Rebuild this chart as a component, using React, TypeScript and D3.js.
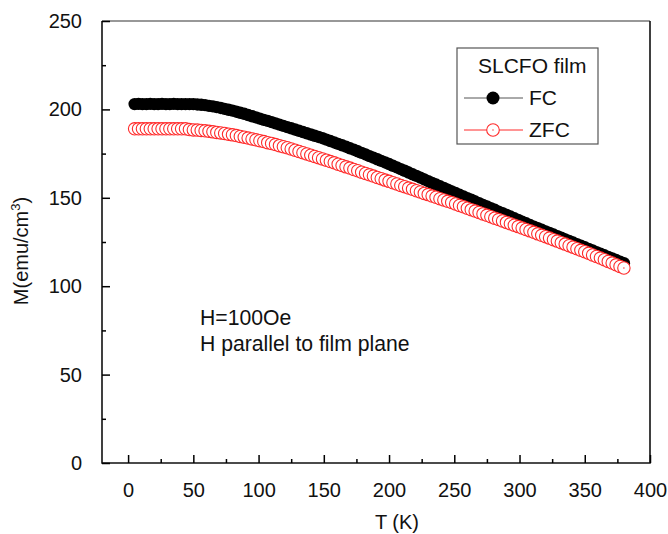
import { useRef, useEffect } from "react";
import * as d3 from "d3";

// temperature (K), shared by both runs
const temps = [
  5, 8, 11, 14, 17, 20, 23, 26, 29, 32, 35, 38, 41, 44, 47, 50, 53, 56, 59, 62,
  65, 68, 71, 74, 77, 80, 83, 86, 89, 92, 95, 98, 101, 104, 107, 110, 113, 116,
  119, 122, 125, 128, 131, 134, 137, 140, 143, 146, 149, 152, 155, 158, 161,
  164, 167, 170, 173, 176, 179, 182, 185, 188, 191, 194, 197, 200, 203, 206,
  209, 212, 215, 218, 221, 224, 227, 230, 233, 236, 239, 242, 245, 248, 251,
  254, 257, 260, 263, 266, 269, 272, 275, 278, 281, 284, 287, 290, 293, 296,
  299, 302, 305, 308, 311, 314, 317, 320, 323, 326, 329, 332, 335, 338, 341,
  344, 347, 350, 353, 356, 359, 362, 365, 368, 371, 374, 377, 380,
];

// M (emu/cm3), field cooled
const fcValues = [
  203.0, 203.1, 203.0, 203.0, 203.1, 203.0, 203.0, 203.1, 203.0, 203.0, 203.1,
  203.0, 203.0, 203.0, 203.0, 203.0, 202.8, 202.6, 202.4, 202.0, 201.7, 201.3,
  200.8, 200.3, 199.8, 199.3, 198.7, 198.1, 197.5, 196.8, 196.1, 195.5, 194.8,
  194.1, 193.5, 192.8, 192.1, 191.4, 190.7, 190.0, 189.3, 188.6, 187.9, 187.2,
  186.5, 185.8, 185.1, 184.4, 183.7, 182.9, 182.1, 181.3, 180.5, 179.7, 178.9,
  178.0, 177.2, 176.3, 175.4, 174.5, 173.6, 172.7, 171.8, 170.9, 170.0, 169.1,
  168.1, 167.2, 166.2, 165.3, 164.3, 163.3, 162.4, 161.4, 160.4, 159.4, 158.4,
  157.5, 156.5, 155.6, 154.6, 153.6, 152.7, 151.7, 150.8, 149.8, 148.9, 147.9,
  147.0, 146.0, 145.1, 144.1, 143.2, 142.2, 141.3, 140.3, 139.4, 138.4, 137.5,
  136.5, 135.6, 134.6, 133.7, 132.8, 131.9, 131.0, 130.1, 129.2, 128.3, 127.4,
  126.5, 125.6, 124.7, 123.8, 122.9, 122.0, 121.1, 120.2, 119.3, 118.4, 117.5,
  116.6, 115.7, 114.8, 113.9, 113.0,
];

// M (emu/cm3), zero field cooled
const zfcValues = [
  189.0, 189.0, 189.0, 189.0, 189.0, 189.0, 189.0, 189.0, 189.0, 189.0, 189.0,
  189.0, 189.0, 189.0, 188.6, 188.4, 188.3, 188.1, 187.9, 187.6, 187.3, 187.0,
  186.7, 186.4, 186.0, 185.6, 185.2, 184.7, 184.3, 183.8, 183.3, 182.8, 182.3,
  181.8, 181.2, 180.7, 180.1, 179.5, 178.9, 178.3, 177.6, 176.9, 176.2, 175.5,
  174.8, 174.1, 173.4, 172.7, 172.0, 171.3, 170.5, 169.8, 169.0, 168.3, 167.5,
  166.8, 166.0, 165.3, 164.5, 163.8, 163.0, 162.3, 161.5, 160.8, 160.0, 159.3,
  158.5, 157.8, 157.0, 156.3, 155.5, 154.8, 154.0, 153.3, 152.5, 151.8, 151.0,
  150.3, 149.5, 148.8, 148.0, 147.3, 146.5, 145.7, 144.9, 144.1, 143.3, 142.5,
  141.7, 140.9, 140.1, 139.3, 138.5, 137.7, 136.9, 136.1, 135.3, 134.5, 133.7,
  132.9, 132.1, 131.3, 130.5, 129.6, 128.8, 128.0, 127.2, 126.3, 125.5, 124.6,
  123.8, 122.9, 122.1, 121.2, 120.3, 119.5, 118.6, 117.7, 116.8, 115.9, 115.0,
  114.0, 113.1, 112.1, 111.2, 110.3,
];

const xTicks = [0, 50, 100, 150, 200, 250, 300, 350, 400];
const xMinor = [25, 75, 125, 175, 225, 275, 325, 375];
const yTicks = [0, 50, 100, 150, 200, 250];
const yMinor = [25, 75, 125, 175, 225];

const FONT = "Arial, 'Liberation Sans', sans-serif";
const RED = "#ff2a2a";

export default function MagnetizationChart() {
  const chartRef = useRef<HTMLDivElement>(null);

  useEffect(() => {
    if (!chartRef.current) return;
    d3.select(chartRef.current).selectAll("*").remove();

    const width = 668;
    const height = 534;
    const margin = { top: 21, right: 18, bottom: 71, left: 102 };

    const svg = d3
      .select(chartRef.current)
      .append("svg")
      .attr("width", width)
      .attr("height", height)
      .style("position", "absolute")
      .style("left", "0px")
      .style("top", "0px")
      .style("background", "#fff");

    const x = d3
      .scaleLinear()
      .domain([-20, 400])
      .range([margin.left, width - margin.right]);
    const y = d3
      .scaleLinear()
      .domain([0, 250])
      .range([height - margin.bottom, margin.top]);

    const fc = temps.map((t, i) => ({ t, m: fcValues[i] }));
    const zfc = temps.map((t, i) => ({ t, m: zfcValues[i] }));

    const line = d3
      .line<{ t: number; m: number }>()
      .x((d) => x(d.t))
      .y((d) => y(d.m));

    // FC: black line + filled dots
    svg
      .append("path")
      .datum(fc)
      .attr("d", line)
      .attr("fill", "none")
      .attr("stroke", "#000")
      .attr("stroke-width", 1);
    svg
      .append("g")
      .selectAll("circle")
      .data(fc)
      .enter()
      .append("circle")
      .attr("cx", (d) => x(d.t))
      .attr("cy", (d) => y(d.m))
      .attr("r", 6.2)
      .attr("fill", "#000");

    // ZFC: red line + open rings
    svg
      .append("path")
      .datum(zfc)
      .attr("d", line)
      .attr("fill", "none")
      .attr("stroke", RED)
      .attr("stroke-width", 1);
    const rings = svg
      .append("g")
      .selectAll("g")
      .data(zfc)
      .enter()
      .append("g")
      .attr("transform", (d) => `translate(${x(d.t)},${y(d.m)})`);
    rings
      .append("circle")
      .attr("r", 6.2)
      .attr("fill", "#fff")
      .attr("stroke", RED)
      .attr("stroke-width", 1.1);
    rings.append("circle").attr("r", 0.7).attr("fill", RED);

    // frame: thin grey top, black left/right/bottom
    const x0 = x(-20), x1 = x(400), y0 = y(0), y1 = y(250);
    svg
      .append("line")
      .attr("x1", x0).attr("x2", x1).attr("y1", y1).attr("y2", y1)
      .attr("stroke", "#333").attr("stroke-width", 1.2);
    svg
      .append("path")
      .attr("d", `M${x0},${y1}V${y0}H${x1}V${y1}`)
      .attr("fill", "none")
      .attr("stroke", "#111")
      .attr("stroke-width", 1.6);

    // axes (ticks point inward)
    const styleAxis = (g: d3.Selection<SVGGElement, unknown, null, undefined>) => {
      g.select(".domain").remove();
      g.selectAll(".tick line").attr("stroke", "#000").attr("stroke-width", 1.5);
      g.selectAll(".tick text")
        .attr("fill", "#111")
        .attr("font-family", FONT)
        .attr("font-size", 20);
    };

    svg
      .append("g")
      .attr("transform", `translate(0,${y0})`)
      .call(d3.axisBottom(x).tickValues(xTicks).tickSize(-8).tickPadding(20).tickFormat(d3.format("d")))
      .call(styleAxis);
    svg
      .append("g")
      .attr("transform", `translate(0,${y0})`)
      .call(d3.axisBottom(x).tickValues(xMinor).tickSize(-4).tickFormat(() => ""))
      .call(styleAxis);
    svg
      .append("g")
      .attr("transform", `translate(${x0},0)`)
      .call(d3.axisLeft(y).tickValues(yTicks).tickSize(-8).tickPadding(20).tickFormat(d3.format("d")))
      .call(styleAxis);
    svg
      .append("g")
      .attr("transform", `translate(${x0},0)`)
      .call(d3.axisLeft(y).tickValues(yMinor).tickSize(-4).tickFormat(() => ""))
      .call(styleAxis);

    // axis titles
    svg
      .append("text")
      .attr("x", 397)
      .attr("y", 529)
      .attr("text-anchor", "middle")
      .attr("font-family", FONT)
      .attr("font-size", 20)
      .attr("fill", "#111")
      .text("T (K)");

    const yLabel = svg
      .append("text")
      .attr("transform", "translate(28,251) rotate(-90)")
      .attr("text-anchor", "middle")
      .attr("font-family", FONT)
      .attr("font-size", 20)
      .attr("fill", "#111");
    yLabel.append("tspan").text("M(emu/cm");
    yLabel.append("tspan").attr("font-size", 13).attr("dy", -8).text("3");
    yLabel.append("tspan").attr("dy", 8).text(")");

    // field note
    svg
      .append("text")
      .attr("x", 200)
      .attr("y", 325)
      .attr("font-family", FONT)
      .attr("font-size", 21.2)
      .attr("fill", "#111")
      .text("H=100Oe");
    svg
      .append("text")
      .attr("x", 200)
      .attr("y", 351)
      .attr("font-family", FONT)
      .attr("font-size", 21.2)
      .attr("fill", "#111")
      .text("H parallel to film plane");

    // Legend
    const legend = svg.append("g");
    legend
      .append("rect")
      .attr("x", 457)
      .attr("y", 48)
      .attr("width", 141)
      .attr("height", 96)
      .attr("fill", "#fff")
      .attr("stroke", "#555")
      .attr("stroke-width", 1.2);
    legend
      .append("text")
      .attr("x", 478)
      .attr("y", 73)
      .attr("font-family", FONT)
      .attr("font-size", 21)
      .attr("fill", "#111")
      .text("SLCFO film");

    legend
      .append("line")
      .attr("x1", 464)
      .attr("x2", 523)
      .attr("y1", 98)
      .attr("y2", 98)
      .attr("stroke", "#555")
      .attr("stroke-width", 1);
    legend.append("circle").attr("cx", 493).attr("cy", 98).attr("r", 6.5).attr("fill", "#000");
    legend
      .append("text")
      .attr("x", 529)
      .attr("y", 105)
      .attr("font-family", FONT)
      .attr("font-size", 21)
      .attr("fill", "#111")
      .text("FC");

    legend
      .append("line")
      .attr("x1", 464)
      .attr("x2", 523)
      .attr("y1", 130)
      .attr("y2", 130)
      .attr("stroke", RED)
      .attr("stroke-width", 1);
    legend
      .append("circle")
      .attr("cx", 493)
      .attr("cy", 130)
      .attr("r", 6.3)
      .attr("fill", "#fff")
      .attr("stroke", RED)
      .attr("stroke-width", 1.1);
    legend.append("circle").attr("cx", 493).attr("cy", 130).attr("r", 0.7).attr("fill", RED);
    legend
      .append("text")
      .attr("x", 529)
      .attr("y", 137)
      .attr("font-family", FONT)
      .attr("font-size", 21)
      .attr("fill", "#111")
      .text("ZFC");
  }, []);

  return (
    <div>
      <div ref={chartRef}></div>
    </div>
  );
}
